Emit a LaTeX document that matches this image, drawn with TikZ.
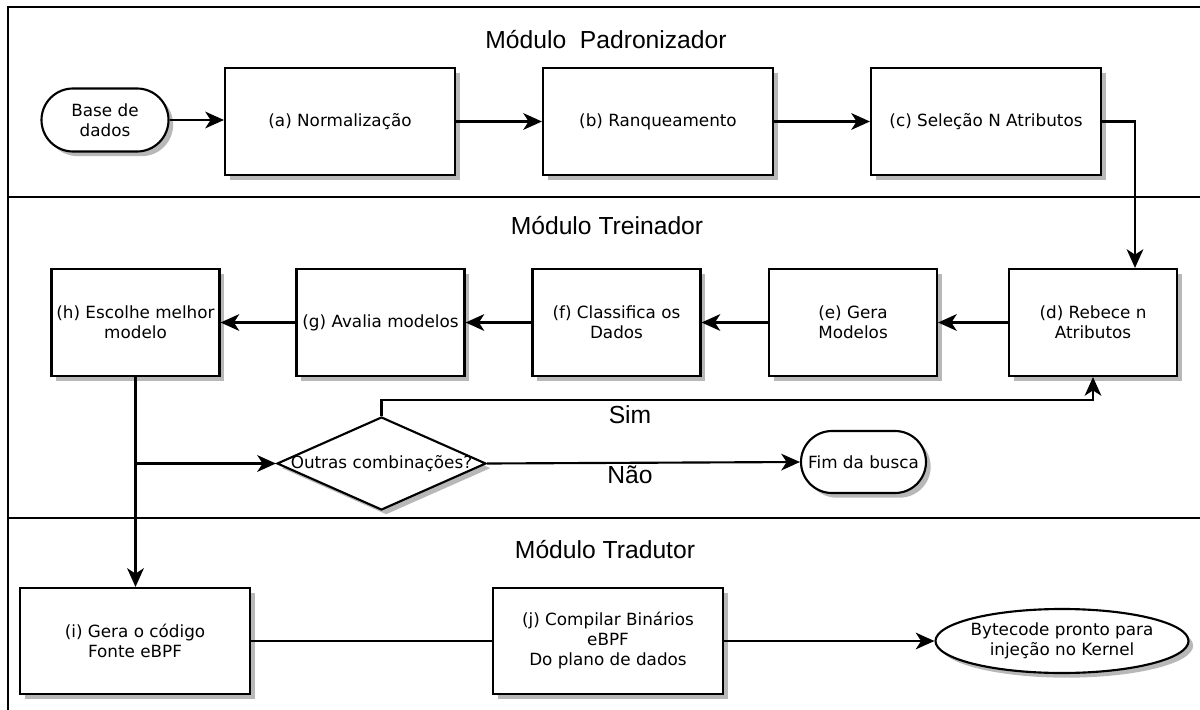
\documentclass[tikz,border=0pt]{standalone}
\usepackage{fontspec}
\setmainfont{DejaVu Sans}
\newfontfamily\arialf{Liberation Sans}
\usetikzlibrary{arrows.meta,shapes.geometric,shapes.misc,shadows}
\begin{document}
\begin{tikzpicture}[x=0.75pt,y=-0.75pt,
  shd/.style={drop shadow={shadow xshift=3.5pt,shadow yshift=-3.5pt,fill=black!28,opacity=1}},
  nfont/.style={font=\fontsize{12.6}{15}\selectfont},
  box/.style={draw,line width=1.6pt,fill=white,shd,rectangle,inner sep=2pt,align=center,nfont,
    minimum width=172.5pt,minimum height=80.25pt},
  sbox/.style={box,minimum width=126pt},
  term/.style={draw,line width=1.6pt,fill=white,shd,rounded rectangle,inner sep=0pt},
  lbl/.style={nfont,align=center},
  title/.style={font=\arialf\fontsize{18.5}{22}\selectfont},
  arr/.style={-{Stealth[length=14pt,width=12.5pt,inset=4pt]},line width=1.6pt},
  ln/.style={line width=1.6pt},
  frame/.style={line width=1.6pt}
]
\useasboundingbox (0,0) rectangle (1200,710);
% frame
\draw[frame] (1200,7) -- (8,7) -- (8,710);
\draw[frame] (8,197) -- (1200,197);
\draw[frame] (8,518) -- (1200,518);
% titles
\node[title] (t1) at (606,40) {Módulo\ \ Padronizador};
\node[title] (t2) at (607,226) {Módulo Treinador};
\node[title] (t3) at (605,550) {Módulo Tradutor};
% row 1
\node[term,minimum width=95.25pt,minimum height=47.25pt,
  label={[lbl]center:Base de\\dados}] (base) at (105,120) {};
\node[box] (a) at (340,121.5) {(a) Normalização};
\node[box] (b) at (658,121.5) {(b) Ranqueamento};
\node[box] (c) at (986,121.5) {(c) Seleção N Atributos};
% row 2
\node[sbox] (d) at (1093,322.5) {(d) Rebece n\\Atributos};
\node[sbox] (e) at (853,322.5) {(e) Gera\\Modelos};
\node[sbox] (f) at (616.5,322.5) {(f) Classifica os\\Dados};
\node[sbox] (g) at (380.5,322.5) {(g) Avalia modelos};
\node[sbox,inner sep=0pt] (h) at (135.5,322.5) {(h) Escolhe melhor\\modelo};
\node[draw,line width=1.6pt,fill=white,shd,diamond,inner sep=0pt,
  minimum width=156.75pt,minimum height=69.75pt,
  label={[lbl]center:Outras combinações?}] (dia) at (381.5,463.5) {};
\node[term,minimum width=93.75pt,minimum height=46.5pt,
  label={[lbl]center:Fim da busca}] (fim) at (863.5,462) {};
\node[title,anchor=center] (sim) at (630,415) {Sim};
\node[title,anchor=center] (nao) at (630,475) {Não};
% row 3
\node[box,minimum height=79.5pt] (i) at (135,641) {(i) Gera o código\\Fonte eBPF};
\node[box,minimum height=79.5pt] (j) at (608,641) {(j) Compilar Binários\\eBPF\\Do plano de dados};
\node[draw,line width=1.6pt,fill=white,shd,ellipse,inner sep=0pt,
  minimum width=189.75pt,minimum height=48pt,
  label={[lbl]center:Bytecode pronto para\\injeção no Kernel}] (byte) at (1062,641) {};
% connectors
\draw[arr] (base.east) -- (base.east -| a.west);
\draw[arr] (a.east) -- (b.west);
\draw[arr] (b.east) -- (c.west);
\draw[arr] (c.east) -| ([xshift=31.5pt]d.north);
\draw[arr] (d.west) -- (e.east);
\draw[arr] (e.west) -- (f.east);
\draw[arr] (f.west) -- (g.east);
\draw[arr] (g.west) -- (h.east);
\draw[arr] (dia.north) -- ++(0,-16) -| (d.south);
\draw[arr] (h.south) -- (h.south |- i.north);
\coordinate (br) at (h.south |- dia.west);
\draw[arr] (br) -- (dia.west);
\draw[arr] (dia.east) -- (fim.west);
\draw[ln] (i.east) -- (j.west);
\draw[arr] (j.east) -- (byte.west);
\end{tikzpicture}
\end{document}
